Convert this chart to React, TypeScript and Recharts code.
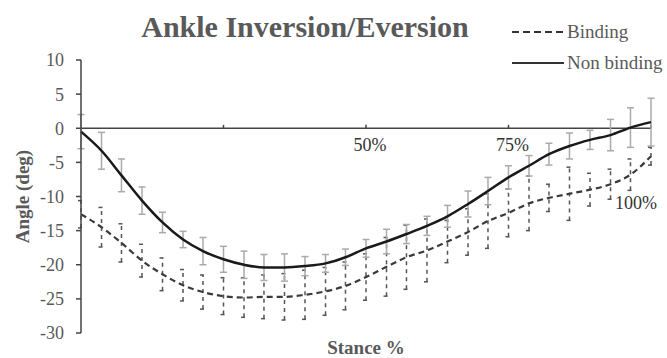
import React from "react";
import {
  LineChart,
  Line,
  XAxis,
  YAxis,
  ErrorBar,
  ReferenceLine,
  ReferenceDot,
  Legend,
} from "recharts";

// stance % (29 samples across the stance phase)
const stance = [
  0, 3.6, 7.1, 10.7, 14.3, 17.9, 21.4, 25, 28.6, 32.1, 35.7, 39.3, 42.9, 46.4, 50,
  53.6, 57.1, 60.7, 64.3, 67.9, 71.4, 75, 78.6, 82.1, 85.7, 89.3, 92.9, 96.4, 100,
];

const binding = [
  -12.6, -14.5, -16.8, -19.4, -21.4, -23.0, -24.0, -24.6, -24.8, -24.7, -24.7, -24.4,
  -23.9, -23.1, -21.8, -20.3, -18.9, -17.9, -16.6, -15.2, -13.6, -12.4, -11.0, -10.2,
  -9.6, -9.0, -8.2, -6.8, -4.1,
];
const bindingErr = [
  2.0, 2.9, 2.8, 2.4, 2.4, 2.3, 2.5, 2.7, 2.9, 3.2, 3.4, 3.6, 3.5, 3.5, 3.4, 4.3, 4.7,
  4.6, 3.1, 3.4, 4.0, 3.5, 4.0, 2.0, 3.9, 2.4, 2.2, 2.3, 1.3,
];

const nonBinding = [
  -0.5, -3.3, -6.9, -10.6, -13.8, -16.3, -18.0, -19.2, -20.0, -20.4, -20.4, -20.2,
  -19.8, -18.9, -17.6, -16.6, -15.5, -14.3, -12.9, -11.1, -9.2, -7.2, -5.5, -3.8, -2.6,
  -1.7, -1.0, 0.1, 0.9,
];
const nonBindingErr = [
  2.5, 2.7, 2.4, 2.0, 1.5, 1.2, 2.0, 1.9, 2.0, 1.9, 2.0, 1.4, 1.3, 1.2, 1.3, 1.8, 1.4,
  1.4, 1.6, 1.9, 2.0, 1.7, 1.5, 1.6, 1.9, 1.4, 2.3, 2.9, 3.5,
];

const yTicks = [-30, -25, -20, -15, -10, -5, 0, 5, 10];
const xTicks = [25, 50, 75, 100];
const xTickLabels = ["", "50%", "75%", "100%"];

const data = stance.map((s, i) => ({
  stance: s,
  binding: binding[i],
  bindingErr: bindingErr[i],
  nonBinding: nonBinding[i],
  nonBindingErr: nonBindingErr[i],
}));

const FONT = '"Liberation Serif", "Times New Roman", serif';
const GREY = "#595959";
const DASH = "6 4";

// where each x tick label sits relative to its tick on the zero line
const labelShift: Record<string, [number, number]> = {
  "50%": [4, 17],
  "75%": [4, 17],
  "100%": [-15, 75],
};

function LegendBox({ payload }: any) {
  return (
    <div style={{ fontFamily: FONT, fontSize: 19, color: GREY }}>
      {(payload || []).map((p: any) => (
        <div
          key={p.value}
          style={{ display: "flex", alignItems: "center", height: 31, whiteSpace: "nowrap" }}
        >
          <svg width={53} height={10} style={{ marginRight: 2 }}>
            <line
              x1={0}
              y1={5}
              x2={52}
              y2={5}
              stroke="#333"
              strokeWidth={2}
              strokeDasharray={p.dataKey === "binding" ? "7 4" : undefined}
            />
          </svg>
          <span>{p.value}</span>
        </div>
      ))}
    </div>
  );
}

export default function App() {
  return (
    <div style={{ position: "absolute", left: 0, top: 0, width: 667, height: 358, background: "#fff" }}>
      <div
        style={{
          position: "absolute",
          left: 0,
          top: 10,
          width: 610,
          textAlign: "center",
          fontFamily: FONT,
          fontWeight: "bold",
          fontSize: 30,
          lineHeight: "34px",
          color: GREY,
        }}
      >
        Ankle Inversion/Eversion
      </div>
      <LineChart
        width={667}
        height={358}
        data={data}
        margin={{ top: 60, right: 16, bottom: 0, left: 0 }}
      >
        <XAxis
          dataKey="stance"
          type="number"
          domain={[0, 100]}
          ticks={xTicks}
          tick={false}
          tickLine={false}
          axisLine={false}
          height={25}
          label={{
            content: ({ viewBox }: any) => (
              <text
                x={viewBox.x + viewBox.width / 2}
                y={viewBox.y + 14}
                textAnchor="middle"
                dominantBaseline="central"
                fontFamily={FONT}
                fontWeight="bold"
                fontSize={19}
                fill={GREY}
              >
                Stance %
              </text>
            ),
          }}
        />
        <YAxis
          type="number"
          domain={[-30, 10]}
          ticks={yTicks}
          interval={0}
          width={81}
          tickSize={5}
          tickMargin={12}
          axisLine={{ stroke: "#444", strokeWidth: 1.5 }}
          tickLine={{ stroke: "#444", strokeWidth: 1.5 }}
          tick={{ fontSize: 18, fill: GREY, fontFamily: FONT }}
          label={{
            content: ({ viewBox }: any) => (
              <text
                transform={`translate(${viewBox.x + 22},${viewBox.y + viewBox.height / 2}) rotate(-90)`}
                textAnchor="middle"
                dominantBaseline="central"
                fontFamily={FONT}
                fontWeight="bold"
                fontSize={19}
                fill={GREY}
              >
                Angle (deg)
              </text>
            ),
          }}
        />
        <ReferenceLine y={0} stroke="#444" strokeWidth={1.5} />
        {xTicks.map((t) => (
          <ReferenceLine
            key={`tick-${t}`}
            segment={[
              { x: t, y: 0 },
              { x: t, y: 0.5 },
            ]}
            stroke="#444"
            strokeWidth={1.5}
          />
        ))}
        {xTicks.map((t, i) =>
          xTickLabels[i] ? (
            <ReferenceDot
              key={`lbl-${t}`}
              x={t}
              y={0}
              r={0}
              fill="none"
              stroke="none"
              label={{
                content: ({ viewBox }: any) => (
                  <text
                    x={viewBox.x + labelShift[xTickLabels[i]][0]}
                    y={viewBox.y + labelShift[xTickLabels[i]][1]}
                    textAnchor="middle"
                    dominantBaseline="central"
                    fontFamily={FONT}
                    fontSize={18}
                    fill="#333"
                  >
                    {xTickLabels[i]}
                  </text>
                ),
              }}
            />
          ) : null
        )}
        <Legend
          layout="vertical"
          verticalAlign="middle"
          align="center"
          content={<LegendBox />}
          wrapperStyle={{ top: 16, left: 512, width: 160 }}
        />
        <Line
          name="Binding"
          dataKey="binding"
          type="monotone"
          stroke="#3a3a3a"
          strokeWidth={2.2}
          strokeDasharray={DASH}
          dot={false}
          activeDot={false}
          isAnimationActive={false}
        >
          <ErrorBar
            dataKey="bindingErr"
            direction="y"
            width={3}
            stroke="#555"
            strokeWidth={1.5}
            strokeDasharray="4 4"
            isAnimationActive={false}
          />
        </Line>
        <Line
          name="Non binding"
          dataKey="nonBinding"
          type="monotone"
          stroke="#1a1a1a"
          strokeWidth={2.5}
          dot={false}
          activeDot={false}
          isAnimationActive={false}
        >
          <ErrorBar
            dataKey="nonBindingErr"
            direction="y"
            width={3.5}
            stroke="#aaa"
            strokeWidth={1.5}
            isAnimationActive={false}
          />
        </Line>
      </LineChart>
    </div>
  );
}
